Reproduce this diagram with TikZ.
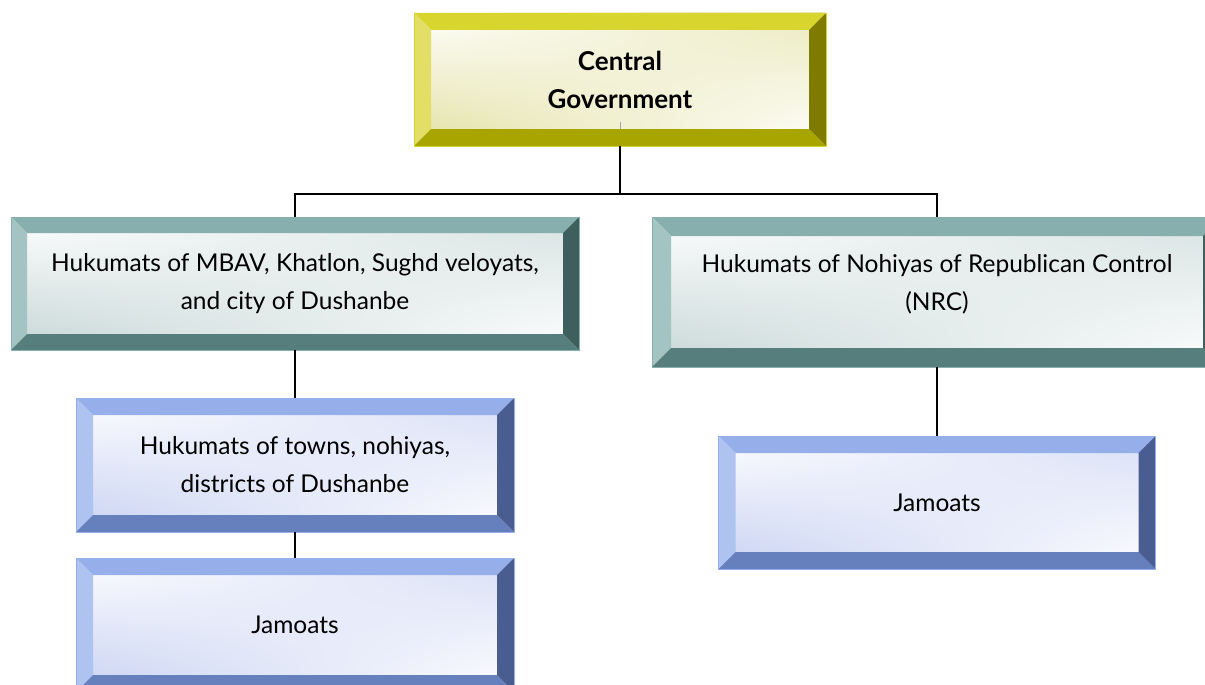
\documentclass[tikz,border=0pt]{standalone}
\usepackage{fontspec}
\setmainfont{Lato}
\usetikzlibrary{positioning,calc,shadings}

% bevel colours
\definecolor{ylTop}{HTML}{D9D52F}
\definecolor{ylLeft}{HTML}{E2DE66}
\definecolor{ylBot}{HTML}{A9A500}
\definecolor{ylRight}{HTML}{7E7B00}
\definecolor{ylFace}{HTML}{E2E0A0}
\definecolor{tlTop}{HTML}{86AFAD}
\definecolor{tlLeft}{HTML}{A3C4C2}
\definecolor{tlBot}{HTML}{557E7C}
\definecolor{tlRight}{HTML}{3F5F5E}
\definecolor{tlFace}{HTML}{C4D5D4}
\definecolor{blTop}{HTML}{96AEEA}
\definecolor{blLeft}{HTML}{AFC3F1}
\definecolor{blBot}{HTML}{6680BE}
\definecolor{blRight}{HTML}{4A5D91}
\definecolor{blFace}{HTML}{C6D0F2}

\tikzset{
  bevel width/.store in=\bevelw, bevel width=17,
  bevelbox/.style n args={5}{rectangle, draw=#2, line width=0.6pt, inner sep=0pt, align=center,
    font=\fontsize{24.5}{38}\selectfont,
    path picture={
      \path (path picture bounding box.north west) coordinate (bnw)
            (path picture bounding box.north east) coordinate (bne)
            (path picture bounding box.south east) coordinate (bse)
            (path picture bounding box.south west) coordinate (bsw);
      \shade[upper left=white, upper right=#5!70!white, lower left=#5, lower right=white] (bnw) rectangle (bse);
      \fill[#2] (bnw) -- (bne) -- ($(bne)+(-\bevelw,\bevelw)$) -- ($(bnw)+(\bevelw,\bevelw)$) -- cycle;
      \fill[#1] (bnw) -- ($(bnw)+(\bevelw,\bevelw)$) -- ($(bsw)+(\bevelw,-\bevelw)$) -- (bsw) -- cycle;
      \fill[#4] (bsw) -- ($(bsw)+(\bevelw,-\bevelw)$) -- ($(bse)+(-\bevelw,-\bevelw)$) -- (bse) -- cycle;
      \fill[#3] (bne) -- ($(bne)+(-\bevelw,\bevelw)$) -- ($(bse)+(-\bevelw,-\bevelw)$) -- (bse) -- cycle;
    }},
  govbox/.style={bevelbox={ylLeft}{ylTop}{ylRight}{ylBot}{ylFace}, font=\fontsize{26}{38}\selectfont\bfseries},
  regbox/.style={bevelbox={tlLeft}{tlTop}{tlRight}{tlBot}{tlFace}},
  locbox/.style={bevelbox={blLeft}{blTop}{blRight}{blBot}{blFace}},
  boxtext/.style={align=center, inner sep=0pt, font=\fontsize{24.5}{38}\selectfont},
  link/.style={line width=1.3pt, black}
}

\begin{document}
\begin{tikzpicture}[x=1pt, y=-1pt]
    \useasboundingbox (0,0) rectangle (1205,685);

    % Top level
    \node[govbox, minimum width=412pt, minimum height=133pt] (cg) at (620,79.5) {Central\\Government};

    % Second level
    \node[regbox, bevel width=16, minimum width=568pt, minimum height=133pt] (mbav) at (295,283.5)
        {Hukumats of MBAV, Khatlon, Sughd veloyats,\\and city of Dushanbe};
    \node[regbox, bevel width=19, minimum width=570pt, minimum height=150pt] (nrc) at (937,292) {};
    \node[boxtext] (nrctext) at (937,284) {Hukumats of Nohiyas of Republican Control\\(NRC)};

    % Local level
    \node[locbox, minimum width=438pt, minimum height=134pt] (towns) at (295,465)
        {Hukumats of towns, nohiyas,\\districts of Dushanbe};
    \node[locbox, minimum width=438pt, minimum height=134pt] (jam1) at (295,625) {Jamoats};
    \node[locbox, minimum width=437pt, minimum height=133pt] (jam2) at (937,502.5) {Jamoats};

    % Connectors
    \coordinate (bus) at (620,194);
    \draw[gray!70, line width=0.8pt] ($(cg.south)+(0,-17)$) -- ++(0,-7);
    \draw[link] (cg.south) -- (bus);
    \draw[link] (bus) -| (mbav.north);
    \draw[link] (bus) -| (nrc.north);
    \draw[link] (mbav.south) -- (towns.north);
    \draw[link] (towns.south) -- (jam1.north);
    \draw[link] (nrc.south) -- (jam2.north);
\end{tikzpicture}
\end{document}
